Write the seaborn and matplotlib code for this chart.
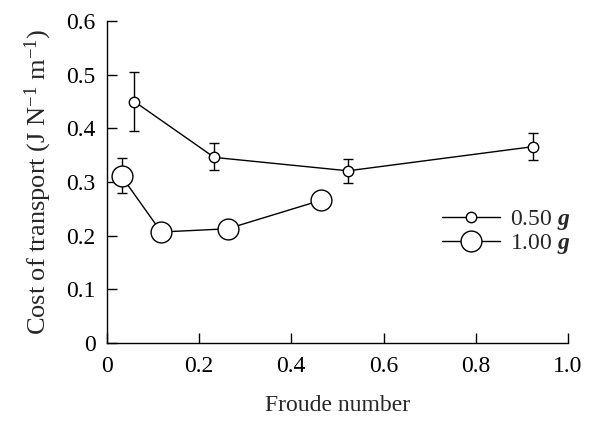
import matplotlib
matplotlib.use("Agg")
import matplotlib.pyplot as plt
import seaborn as sns
import pandas as pd
from matplotlib.lines import Line2D

sns.set_theme(style="ticks")
plt.rcParams['font.family'] = ['Liberation Serif', 'DejaVu Serif']
plt.rcParams['mathtext.fontset'] = 'custom'
plt.rcParams['mathtext.rm'] = 'Liberation Serif'
plt.rcParams['mathtext.it'] = 'Liberation Serif:italic'
plt.rcParams['mathtext.bf'] = 'Liberation Serif:bold'
plt.rcParams['mathtext.bfit'] = 'Liberation Serif:italic:bold'

# Data
froude_050 = [0.060, 0.233, 0.523, 0.924]
cot_050 = [0.450, 0.346, 0.321, 0.366]
err_lo_050 = [0.396, 0.322, 0.299, 0.342]
err_hi_050 = [0.505, 0.373, 0.343, 0.391]

froude_100 = [0.032, 0.118, 0.262, 0.464]
cot_100 = [0.311, 0.207, 0.213, 0.266]
err_lo_100 = [0.279, None, None, None]
err_hi_100 = [0.344, None, None, None]

labels = [r"0.50 $\mathbfit{g}$", r"1.00 $\mathbfit{g}$"]
xticks = [0, 0.2, 0.4, 0.6, 0.8, 1.0]
xticklabels = ["0", "0.2", "0.4", "0.6", "0.8", "1.0"]
yticks = [0, 0.1, 0.2, 0.3, 0.4, 0.5, 0.6]
yticklabels = ["0", "0.1", "0.2", "0.3", "0.4", "0.5", "0.6"]

fig = plt.figure(figsize=(5.93, 4.21), dpi=100)
ax = fig.add_axes([0.180, 0.185, 0.778, 0.765])

df1 = pd.DataFrame({"x": froude_050, "y": cot_050})
df2 = pd.DataFrame({"x": froude_100, "y": cot_100})

# error bars
def draw_err(xs, ys, lo, hi):
    for x, y, l, h in zip(xs, ys, lo, hi):
        if l is None:
            continue
        ax.errorbar([x], [y], yerr=[[y - l], [h - y]], fmt='none', ecolor='black',
                    elinewidth=1.0, capsize=3.5, capthick=1.0, zorder=1)

draw_err(froude_050, cot_050, err_lo_050, err_hi_050)
draw_err(froude_100, cot_100, err_lo_100, err_hi_100)

sns.lineplot(data=df1, x="x", y="y", ax=ax, color="black", linewidth=1.0,
             marker="o", markersize=7.5, markerfacecolor="white",
             markeredgecolor="black", markeredgewidth=1.0, zorder=3, legend=False)
sns.lineplot(data=df2, x="x", y="y", ax=ax, color="black", linewidth=1.0,
             marker="o", markersize=15, markerfacecolor="white",
             markeredgecolor="black", markeredgewidth=1.0, zorder=3, legend=False)

ax.set_xlim(0, 1.0)
ax.set_ylim(0, 0.6)
ax.set_xticks(xticks)
ax.set_xticklabels(xticklabels)
ax.set_yticks(yticks)
ax.set_yticklabels(yticklabels)
ax.tick_params(direction='in', length=7, width=1.0, labelsize=17, colors='black')
ax.tick_params(axis='y', pad=8)
ax.tick_params(axis='x', pad=9)
for s in ['top', 'right']:
    ax.spines[s].set_visible(False)
for s in ['left', 'bottom']:
    ax.spines[s].set_linewidth(1.0)
    ax.spines[s].set_color('black')

ax.set_xlabel("Froude number", fontsize=17, labelpad=13)
ax.set_ylabel(r"Cost of transport (J N$^{-1}$ m$^{-1}$)", fontsize=19, labelpad=9)

handles = [
    Line2D([], [], color='black', linewidth=1.0, marker='o', markersize=7.5,
           markerfacecolor='white', markeredgecolor='black'),
    Line2D([], [], color='black', linewidth=1.0, marker='o', markersize=15,
           markerfacecolor='white', markeredgecolor='black'),
]
ax.legend(handles, labels, loc='center left', bbox_to_anchor=(0.727, 0.345),
          frameon=False, fontsize=17, handlelength=2.45, handletextpad=0.42,
          labelspacing=0.0, borderpad=0, borderaxespad=0)

fig.savefig("out.png", dpi=100)
